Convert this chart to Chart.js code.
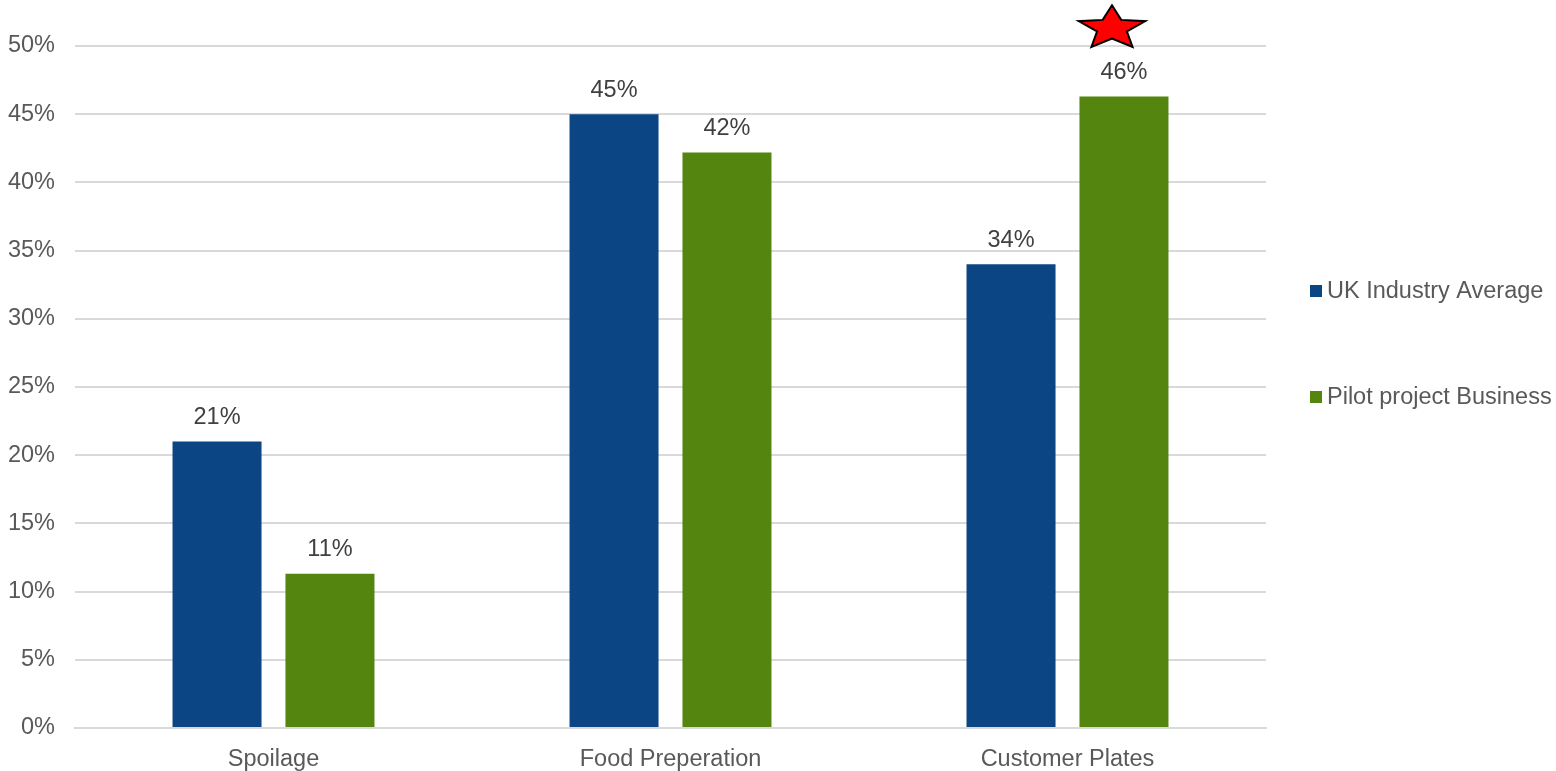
<!DOCTYPE html>
<html>
<head>
<meta charset="utf-8">
<script src="https://cdn.jsdelivr.net/npm/chart.js@4.4.0/dist/chart.umd.min.js"></script>
<style>
  html, body { margin: 0; padding: 0; background: #ffffff; }
  #wrap { width: 1556px; height: 771px; position: relative; }
</style>
</head>
<body>
<div id="wrap"><canvas id="wasteChart"></canvas></div>
<script>
// ========== DATA ==========
const categories = ['Spoilage', 'Food Preperation', 'Customer Plates'];
const seriesNames = ['UK Industry Average', 'Pilot project Business'];
const ukAverage = [21, 45, 34];
const pilotBusiness = [11.3, 42.2, 46.3];
const yTicks = [0, 5, 10, 15, 20, 25, 30, 35, 40, 45, 50];

const BLUE = '#0b4584';
const GREEN = '#53850f';
const FONT = 'Liberation Sans, Arial, sans-serif';
const FSIZE = 23.5;

/**
 * Etiquetas de valor encima de cada barra
 */
const valueLabels = {
    id: 'valueLabels',
    afterDatasetsDraw(chart) {
        const ctx = chart.ctx;
        ctx.save();
        ctx.font = FSIZE + 'px ' + FONT;
        ctx.fillStyle = '#404040';
        ctx.textAlign = 'center';
        ctx.textBaseline = 'middle';
        chart.data.datasets.forEach((ds, i) => {
            chart.getDatasetMeta(i).data.forEach((bar, j) => {
                ctx.fillText(Math.round(ds.data[j]) + '%', bar.x, bar.y - 24);
            });
        });
        ctx.restore();
    }
};

/**
 * Estrella sobre la barra del proyecto piloto (Customer Plates)
 */
const starMark = {
    id: 'starMark',
    afterDatasetsDraw(chart) {
        const bar = chart.getDatasetMeta(1).data[2];
        if (!bar) return;
        const ctx = chart.ctx;
        const cx = bar.x - 12;
        const cy = chart.scales.y.getPixelForValue(51.3);
        const rx = 35, ry = 23, inner = 0.45;
        ctx.save();
        ctx.beginPath();
        for (let k = 0; k < 10; k++) {
            const a = -Math.PI / 2 + k * Math.PI / 5;
            const r = k % 2 === 0 ? 1 : inner;
            const px = cx + Math.cos(a) * rx * r;
            const py = cy + Math.sin(a) * ry * r;
            if (k === 0) ctx.moveTo(px, py); else ctx.lineTo(px, py);
        }
        ctx.closePath();
        ctx.fillStyle = '#ff0000';
        ctx.fill();
        ctx.lineWidth = 2;
        ctx.lineJoin = 'miter';
        ctx.strokeStyle = '#000000';
        ctx.stroke();
        ctx.restore();
    }
};

/**
 * Leyenda a la derecha
 */
const sideLegend = {
    id: 'sideLegend',
    afterDraw(chart) {
        const ctx = chart.ctx;
        const rows = [291, 397];
        ctx.save();
        ctx.font = FSIZE + 'px ' + FONT;
        ctx.textBaseline = 'middle';
        ctx.textAlign = 'left';
        chart.data.datasets.forEach((ds, i) => {
            ctx.fillStyle = ds.backgroundColor;
            ctx.fillRect(1310, rows[i] - 6, 12, 12);
            ctx.fillStyle = '#595959';
            ctx.fillText(ds.label, 1327, rows[i] + 1);
        });
        ctx.restore();
    }
};

const chart = new Chart(document.getElementById('wasteChart'), {
    type: 'bar',
    data: {
        labels: categories,
        datasets: [
            { label: seriesNames[0], data: ukAverage, backgroundColor: BLUE },
            { label: seriesNames[1], data: pilotBusiness, backgroundColor: GREEN }
        ]
    },
    options: {
        responsive: true,
        maintainAspectRatio: false,
        animation: false,
        categoryPercentage: 0.569,
        barPercentage: 0.788,
        layout: { padding: { top: 46, right: 290, bottom: 0, left: 0 } },
        scales: {
            y: {
                min: 0,
                max: 50,
                afterFit(s) { s.width = 75; },
                afterBuildTicks(s) { s.ticks = yTicks.map(v => ({ value: v })); },
                ticks: {
                    padding: 20,
                    color: '#595959',
                    font: { size: FSIZE, family: FONT },
                    callback: v => v + '%'
                },
                grid: { color: '#d9d9d9', lineWidth: 2, drawTicks: false },
                border: { display: false }
            },
            x: {
                afterFit(s) { s.height = 43; },
                ticks: {
                    padding: 17,
                    color: '#595959',
                    font: { size: FSIZE, family: FONT }
                },
                grid: { display: false, drawTicks: false },
                border: { color: '#d9d9d9', width: 2 }
            }
        },
        plugins: {
            legend: { display: false },
            tooltip: { enabled: false }
        }
    },
    plugins: [valueLabels, starMark, sideLegend]
});
</script>
</body>
</html>
